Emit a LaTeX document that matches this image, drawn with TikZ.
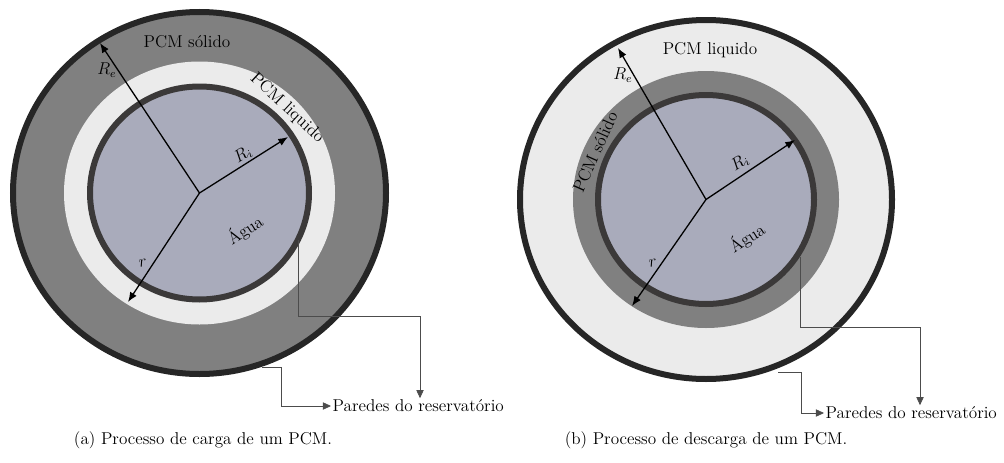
\documentclass[tikz,border=0pt]{standalone}
\usepackage{tikz}
\usetikzlibrary{arrows.meta,calc}
\definecolor{wallblk}{HTML}{262626}
\definecolor{wallin}{HTML}{3B3939}
\definecolor{solidpcm}{HTML}{808080}
\definecolor{liqpcm}{HTML}{EBEBEB}
\definecolor{water}{HTML}{A9ABBB}
\tikzset{
  outwall/.style  = {draw=wallblk, line width=4.2pt},
  inwall/.style   = {draw=wallin, line width=4.2pt, fill=water},
  rad/.style      = {-{Latex[length=2.4mm,width=1.9mm]}, line width=0.9pt, black},
  callout/.style  = {-{Triangle[length=2mm,width=1.8mm]}, line width=0.5pt, black!70},
  lbl/.style      = {font=\large, inner sep=1pt},
  capt/.style     = {font=\large, inner sep=0pt},
}
\begin{document}
\begin{tikzpicture}[x=0.7pt,y=-0.7pt]
  \useasboundingbox (0,0) rectangle (1004,462);

  % (a) carga
  \coordinate (c1) at (199.5,193);
  \fill[outwall, fill=solidpcm] (c1) ellipse [x radius=186.5, y radius=181];
  \fill[liqpcm] (c1) ellipse [x radius=135.5, y radius=131.5];
  \filldraw[inwall] (c1) ellipse [x radius=109.5, y radius=106.5];

  \coordinate (re1) at (100,43);
  \coordinate (ri1) at (288,137);
  \coordinate (r1)  at (128,302);
  \draw[rad] (c1) -- (re1);
  \draw[rad] (c1) -- (ri1);
  \draw[rad] (c1) -- (r1);

  \node[lbl] (sol1) at (187,42) {PCM sólido};
  \node[lbl, rotate=-43] (liq1) at (287,108) {PCM liquido};
  \node[lbl] (lre1) at (107,70) {$R_e$};
  \node[lbl, rotate=33] (lri1) at (243,155) {$R_i$};
  \node[lbl, rotate=10] (lr1) at (143,263) {$r$};
  \node[lbl, rotate=33] (agua1) at (245,230) {Água};

  \node[lbl, anchor=west] (wall1) at (331,406) {Paredes do reservatório};
  \coordinate (wi1) at (298,240);
  \coordinate (wo1) at (262,367);
  \coordinate (k1) at (420,316);
  \draw[callout] (wi1) |- (k1) -- (k1 |- wall1.north);
  \draw[callout] (wo1) -- (281,367) |- (wall1.west);

  % (b) descarga
  \coordinate (c2) at (706,199.5);
  \fill[outwall, fill=liqpcm] (c2) ellipse [x radius=186, y radius=179.5];
  \fill[solidpcm] (c2) ellipse [x radius=133, y radius=128.5];
  \filldraw[inwall] (c2) ellipse [x radius=108, y radius=104.5];

  \coordinate (re2) at (618,48);
  \coordinate (ri2) at (795,140);
  \coordinate (r2)  at (632,306);
  \draw[rad] (c2) -- (re2);
  \draw[rad] (c2) -- (ri2);
  \draw[rad] (c2) -- (r2);

  \node[lbl] (liq2) at (710,50) {PCM liquido};
  \node[lbl, rotate=66] (sol2) at (595,152) {PCM sólido};
  \node[lbl] (lre2) at (623,75) {$R_e$};
  \node[lbl, rotate=33] (lri2) at (740,163) {$R_i$};
  \node[lbl, rotate=10] (lr2) at (653,263) {$r$};
  \node[lbl, rotate=33] (agua2) at (747,238) {Água};

  \node[lbl, anchor=west] (wall2) at (824,413) {Paredes do reservatório};
  \coordinate (wi2) at (800,257);
  \coordinate (wo2) at (778,372);
  \coordinate (k2) at (920,327);
  \draw[callout] (wi2) |- (k2) -- (k2 |- wall2.north);
  \draw[callout] (wo2) -- (801,372) |- (wall2.west);

  % legendas
  \node[capt] (capa) at (203,440) {(a) Processo de carga de um PCM.};
  \node[capt] (capb) at (706,440) {(b) Processo de descarga de um PCM.};
\end{tikzpicture}
\end{document}
